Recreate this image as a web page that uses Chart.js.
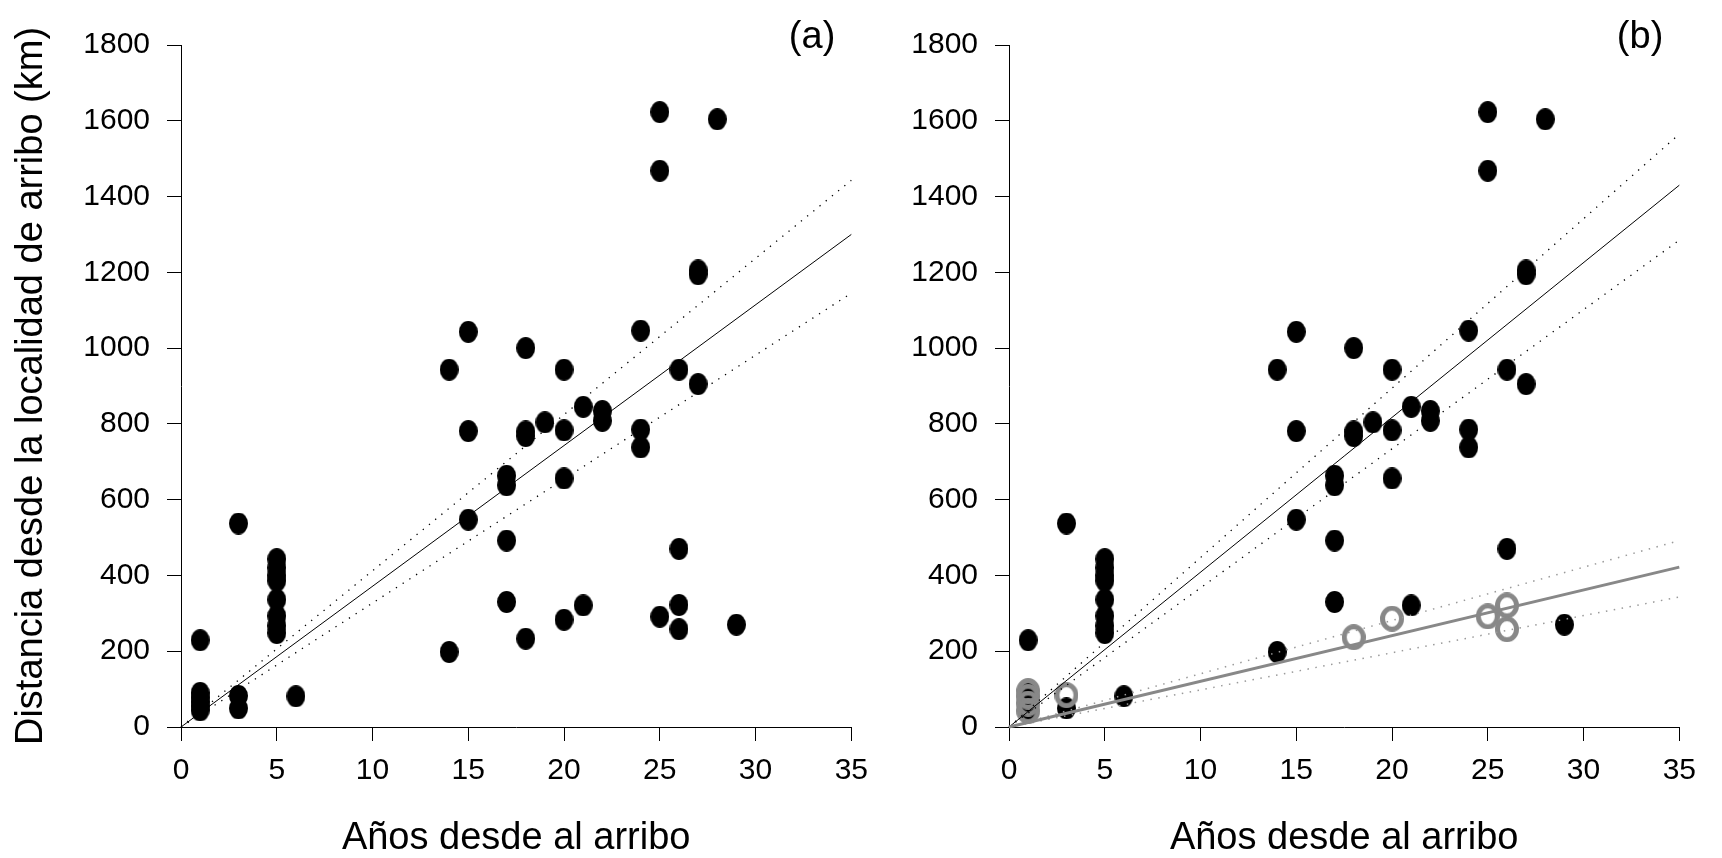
<!DOCTYPE html>
<html>
<head>
<meta charset="utf-8">
<script src="https://cdn.jsdelivr.net/npm/chart.js@4.4.1/dist/chart.umd.min.js"></script>
<style>
  html, body { margin: 0; padding: 0; background: #fff; }
  #wrap { position: relative; width: 1722px; height: 858px; overflow: hidden; }
  canvas { position: absolute; top: 0; }
  #chartA { left: 0; }
  #chartB { left: 828px; }
</style>
</head>
<body>
<div id="wrap">
  <canvas id="chartA" width="880" height="858"></canvas>
  <canvas id="chartB" width="880" height="858"></canvas>
</div>
<script>
// panel (a): all sites, years since arrival vs distance (km)
const yearsA = [1,1,1,1,1,1, 3,3,3, 5,5,5,5,5,5,5,5, 6, 14,14, 15,15,15, 17,17,17,17, 18,18,18,18, 19, 20,20,20,20, 21,21, 22,22, 24,24,24, 25,25,25, 26,26,26,26, 27,27,27, 28, 29];
const distA  = [229,90,78,66,55,44, 537,82,49, 443,420,400,386,336,293,267,248, 81, 943,198, 1043,781,547, 663,638,492,330, 1000,780,768,233, 804, 943,783,656,283, 845,321, 834,808, 1046,785,738, 1623,1468,291, 943,470,322,258, 1205,1195,905, 1604, 270];

// panel (b): black group and grey group
const yearsB = [1,1,1, 3,3, 5,5,5,5,5,5,5,5, 6, 14,14, 15,15,15, 17,17,17,17, 18,18,18, 19, 20,20,20, 21,21, 22,22, 24,24,24, 25,25, 26,26, 27,27,27, 28, 29];
const distB  = [229,88,44, 537,49, 443,420,400,386,336,293,267,248, 81, 943,198, 1043,781,547, 663,638,492,330, 1000,780,768, 804, 943,783,656, 845,321, 834,808, 1046,785,738, 1623,1468, 943,470, 1205,1195,905, 1604, 270];
const yearsGrey = [1,1,1,1, 3, 18, 20, 25, 26,26];
const distGrey  = [95,80,62,42, 84, 237, 286, 292, 321,258];

// fitted lines (through origin) and their bands, read at x = 0 and x = 35
const fitX = [0, 35];
const fitA = [0, 1300], fitAUp = [0, 1443], fitALow = [0, 1145];
const fitB = [0, 1430], fitBUp = [0, 1565], fitBLow = [0, 1285];
const fitGrey = [0, 422], fitGreyUp = [0, 492], fitGreyLow = [0, 343];

const xTicks = [0, 5, 10, 15, 20, 25, 30, 35];
const yTicks = [0, 200, 400, 600, 800, 1000, 1200, 1400, 1600, 1800];

const FONT = '"Liberation Sans", Arial, sans-serif';

const pts = (xs, ys) => xs.map((x, i) => ({ x: x, y: ys[i] }));

function ellipseDot(w, h, fill, stroke, lw) {
  const c = document.createElement('canvas');
  c.width = w; c.height = h;
  const g = c.getContext('2d');
  g.beginPath();
  g.ellipse(w / 2, h / 2, w / 2 - (lw || 0) / 2, h / 2 - (lw || 0) / 2, 0, 0, Math.PI * 2);
  if (fill) { g.fillStyle = fill; g.fill(); }
  if (stroke) { g.lineWidth = lw; g.strokeStyle = stroke; g.stroke(); }
  return c;
}
const blackDot = ellipseDot(19, 22, '#000');
const greyRing = ellipseDot(24, 26, null, '#888', 5);

function fitLine(ys, color, width, dash) {
  return {
    data: pts(fitX, ys), showLine: true, borderColor: color, borderWidth: width,
    borderDash: dash || [], pointRadius: 0, fill: false, clip: false
  };
}

const panelLabel = {
  id: 'panelLabel',
  afterDraw(chart, args, opts) {
    const { ctx, chartArea } = chart;
    ctx.save();
    ctx.font = '38px ' + FONT;
    ctx.fillStyle = '#000';
    ctx.textAlign = 'right';
    ctx.textBaseline = 'alphabetic';
    ctx.fillText(opts.text, chartArea.right - 16, 48);
    ctx.restore();
  }
};

function makeScales(showYTitle) {
  return {
    x: {
      type: 'linear', min: 0, max: 35,
      afterBuildTicks: s => { s.ticks = xTicks.map(v => ({ value: v })); },
      ticks: { color: '#000', font: { family: FONT, size: 30 }, padding: 12, maxRotation: 0, autoSkip: false,
               callback: v => String(v) },
      grid: { drawOnChartArea: false, drawTicks: true, tickLength: 14, color: '#000' },
      border: { display: true, color: '#000', width: 1 },
      title: { display: true, text: 'Años desde al arribo', color: '#000',
               font: { family: FONT, size: 38, lineHeight: 1 }, padding: { top: 0, bottom: 0 } },
      afterFit: s => { s.height = 131; }
    },
    y: {
      type: 'linear', min: 0, max: 1800,
      afterBuildTicks: s => { s.ticks = yTicks.map(v => ({ value: v })); },
      ticks: { color: '#000', font: { family: FONT, size: 30 }, padding: 17, autoSkip: false,
               callback: v => String(v) },
      grid: { drawOnChartArea: false, drawTicks: true, tickLength: 14, color: '#000' },
      border: { display: true, color: '#000', width: 1 },
      title: { display: showYTitle, text: 'Distancia desde la localidad de arribo (km)', color: '#000',
               font: { family: FONT, size: 38, lineHeight: 1 }, padding: { top: 13, bottom: 0 } },
      afterFit: s => { s.width = 181; }
    }
  };
}

function makeChart(id, datasets, label, showYTitle) {
  return new Chart(document.getElementById(id), {
    type: 'scatter',
    data: { datasets: datasets },
    options: {
      responsive: false,
      animation: false,
      devicePixelRatio: 1,
      layout: { padding: { left: 0, top: 45, right: 21, bottom: 0 } },
      plugins: { legend: { display: false }, tooltip: { enabled: false }, panelLabel: { text: label } },
      scales: makeScales(showYTitle)
    },
    plugins: [panelLabel]
  });
}

makeChart('chartA', [
  fitLine(fitA, '#000', 1),
  fitLine(fitAUp, '#000', 1.3, [1.3, 6.7]),
  fitLine(fitALow, '#000', 1.3, [1.3, 6.7]),
  { data: pts(yearsA, distA), pointStyle: blackDot, pointRadius: 10, pointHoverRadius: 10 }
], '(a)', true);

makeChart('chartB', [
  fitLine(fitGrey, '#888', 3),
  fitLine(fitGreyUp, '#9a9a9a', 1.5, [1.5, 6.5]),
  fitLine(fitGreyLow, '#9a9a9a', 1.5, [1.5, 6.5]),
  fitLine(fitB, '#000', 1),
  fitLine(fitBUp, '#000', 1.3, [1.3, 6.7]),
  fitLine(fitBLow, '#000', 1.3, [1.3, 6.7]),
  { data: pts(yearsGrey, distGrey), pointStyle: greyRing, pointRadius: 10, pointHoverRadius: 10 },
  { data: pts(yearsB, distB), pointStyle: blackDot, pointRadius: 10, pointHoverRadius: 10 }
], '(b)', false);
</script>
</body>
</html>
